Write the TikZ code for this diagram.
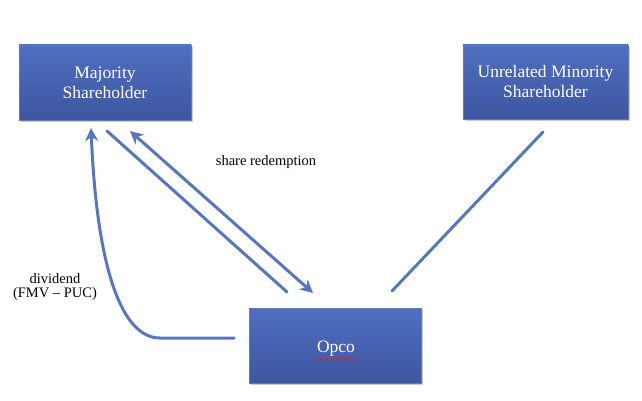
\documentclass[tikz,border=0pt]{standalone}
\usepackage{fontspec}
\setmainfont{Liberation Serif}
\usetikzlibrary{arrows.meta,shadows,decorations.pathmorphing}

\definecolor{boxtop}{RGB}{80,111,192}
\definecolor{boxbot}{RGB}{61,86,160}
\definecolor{linkblue}{RGB}{88,118,190}
\definecolor{spellred}{RGB}{215,40,40}

\tikzset{
  entity/.style={rectangle, minimum width=172pt, minimum height=75pt,
    inner sep=0pt, top color=boxtop, bottom color=boxbot,
    draw=boxbot!80!white, line width=0.4pt,
    drop shadow={shadow xshift=1.5pt, shadow yshift=-2pt, opacity=0.35, fill=black!60},
    text=white, align=center,
    font=\fontsize{17.5pt}{20pt}\selectfont},
  link/.style={draw=linkblue, line width=3pt, line cap=round,
    >={Stealth[length=13pt,width=13pt,inset=4pt]}},
  caption/.style={font=\fontsize{14.5pt}{14pt}\selectfont, align=center, inner sep=0pt}
}

\begin{document}
\begin{tikzpicture}[x=1pt,y=-1pt]
  \useasboundingbox (0,0) rectangle (642,401);

  % parties
  \node[entity] (maj) at (105,82.5) {Majority\\Shareholder};
  \node[entity, minimum width=165pt, minimum height=74pt] (minor) at (545.5,82) {Unrelated Minority\\Shareholder};
  \node[entity] (opco) at (335,345.5) {};
  \node[text=white, font=\fontsize{17.5pt}{20pt}\selectfont, inner sep=0pt] (opcolbl) at (336,349) {Opco};
  \draw[spellred, line width=0.7pt, decorate,
        decoration={snake, amplitude=1pt, segment length=3.5pt}]
    ([xshift=-2pt,yshift=-2pt]opcolbl.south west) -- ([xshift=2pt,yshift=-2pt]opcolbl.south east);

  % connector end points
  \coordinate (divstart) at (234,338);
  \coordinate (divbend)  at (160,338);
  \coordinate (divtip)   at (91,128);
  \coordinate (redA1) at (107,131);
  \coordinate (redA2) at (287,292);
  \coordinate (redB1) at (130,131);
  \coordinate (redB2) at (313,293);
  \coordinate (minA) at (543,132);
  \coordinate (minB) at (392,291);

  % dividend paid up to the majority holder
  \draw[link, ->] (divstart) -- (divbend)
    .. controls (122,338) and (97,270) .. (divtip);

  % share redemption
  \draw[link] (redA1) -- (redA2);
  \draw[link, <->] (redB1) -- (redB2);

  % minority holding
  \draw[link] (minA) -- (minB);

  % labels
  \node[caption] (redlbl) at (266,162) {share redemption};
  \node[caption] (divlbl) at (55,287) {dividend\\(FMV – PUC)};
\end{tikzpicture}
\end{document}
